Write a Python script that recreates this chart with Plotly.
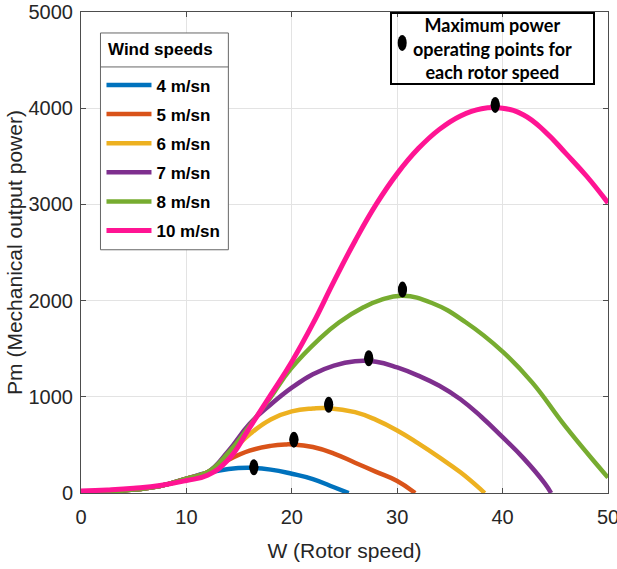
import plotly.graph_objects as go

# ---------------- data ----------------
names = ["4 m/sn", "5 m/sn", "6 m/sn", "7 m/sn", "8 m/sn", "10 m/sn"]
colors = ["#0072BD", "#D95319", "#EDB120", "#7E2F8E", "#77AC30", "#FF1493"]

x_4 = [0, 2.5, 5, 7.5, 10, 12, 14, 16, 18, 20, 22, 24, 25.4]
y_4 = [0, 12, 35, 72, 150, 210, 250, 262, 243, 200, 145, 60, 0]

x_5 = [0, 2.5, 5, 7.5, 10, 12, 14, 16, 18, 19.5, 20, 22, 24, 26, 28, 30, 31.7]
y_5 = [0, 12, 35, 72, 150, 215, 345, 440, 490, 505, 505, 478, 410, 315, 220, 125, 0]

x_6 = [0, 2.5, 5, 7.5, 10, 12, 14, 16, 18, 20, 22, 23.5, 26, 28, 30, 32, 34, 36, 38, 38.3]
y_6 = [0, 12, 35, 72, 150, 215, 400, 610, 765, 848, 878, 882, 840, 760, 650, 515, 370, 215, 30, 0]

x_7 = [0, 2.5, 5, 7.5, 10, 12, 14, 16, 18, 20, 22, 24, 26, 28, 30, 32, 34, 36, 38, 40, 42, 44, 44.6]
y_7 = [0, 12, 35, 72, 150, 215, 440, 720, 920, 1095, 1235, 1325, 1370, 1365, 1305, 1220, 1115, 975, 790, 580, 360, 100, 0]

x_8 = [0, 2.5, 5, 7.5, 10, 12, 14, 16, 17.9, 19.9, 22.6, 24.5, 26.8, 28.4, 30.5, 33.3, 36.5, 40, 42.8, 45.9, 49.1, 50]
y_8 = [0, 12, 35, 72, 150, 215, 420, 700, 980, 1290, 1600, 1775, 1930, 2005, 2050, 1975, 1775, 1470, 1150, 700, 275, 160]

x_10 = [0, 2.5, 5, 7.5, 10, 12, 14, 16, 18, 20, 22, 24, 26, 28, 30, 32, 34, 36, 38, 40, 42, 44, 46, 48, 50]
y_10 = [20, 32, 50, 78, 130, 185, 350, 680, 1020, 1365, 1760, 2200, 2620, 3000, 3320, 3580, 3780, 3920, 3995, 4000, 3930, 3760, 3530, 3290, 3015]

# maximum power operating points (black dots)
mpp_x = [16.4, 20.2, 23.5, 27.3, 30.5, 39.3]
mpp_y = [268, 554, 917, 1401, 2115, 4034]

x_ticks = [0, 10, 20, 30, 40, 50]
y_ticks = [0, 1000, 2000, 3000, 4000, 5000]

series_x = [x_4, x_5, x_6, x_7, x_8, x_10]
series_y = [y_4, y_5, y_6, y_7, y_8, y_10]

# ---------------- figure ----------------
fig = go.Figure()
for nm, cx, cy, col in zip(names, series_x, series_y, colors):
    fig.add_trace(go.Scatter(
        x=cx, y=cy, mode="lines", name=nm,
        legendgroup=nm,
        line=dict(color=col, width=5 if nm == "10 m/sn" else 4.5, shape="spline", smoothing=1.3),
    ))

fig.add_trace(go.Scatter(
    x=mpp_x, y=mpp_y, mode="markers", showlegend=False,
    marker=dict(color="black", size=9, symbol="circle"),
))

PL, PR, PT, PB = 80.5, 608.0, 12.0, 493.5
def px2x(px):
    return (px - PL) / (PR - PL)
def py2y(py):
    return (PB - py) / (PB - PT)

shapes = []
# legend frame (white box) and title separator
shapes.append(dict(type="rect", xref="paper", yref="paper",
                   x0=px2x(100), x1=px2x(228), y0=py2y(250), y1=py2y(33),
                   fillcolor="white", line=dict(color="#666666", width=1), layer="above"))
shapes.append(dict(type="line", xref="paper", yref="paper",
                   x0=px2x(100), x1=px2x(228), y0=py2y(67), y1=py2y(67),
                   line=dict(color="#666666", width=1), layer="above"))
# ellipse dots anchored at the data points
for mx, my in zip(mpp_x, mpp_y):
    shapes.append(dict(type="circle", xref="x", yref="y", xsizemode="pixel", ysizemode="pixel",
                       xanchor=mx, yanchor=my, x0=-4.5, x1=4.5, y0=-8, y1=8,
                       fillcolor="black", line=dict(width=0), layer="above"))
# dot in the annotation box
shapes.append(dict(type="circle", xref="paper", yref="paper", xsizemode="pixel", ysizemode="pixel",
                   xanchor=px2x(402), yanchor=py2y(43), x0=-4.5, x1=4.5, y0=-8, y1=8,
                   fillcolor="black", line=dict(width=0), layer="above"))

axis_common = dict(
    showline=True, linecolor="#4d4d4d", linewidth=1, mirror="ticks",
    ticks="inside", ticklen=5, tickcolor="#4d4d4d",
    showgrid=True, gridcolor="#e3e3e3", gridwidth=1, zeroline=False,
    automargin=False,
    tickfont=dict(family="Liberation Sans, Arial", size=20, color="#262626"),
)

fig.update_layout(
    width=617, height=569,
    margin=dict(l=80.5, r=9, t=12, b=75.5),
    plot_bgcolor="white", paper_bgcolor="white",
    xaxis=dict(range=[0, 50], tickvals=x_ticks, ticklabelstandoff=6, ticklabeloverflow="allow", **axis_common,
               title=dict(text="W (Rotor speed)", font=dict(family="Liberation Sans, Arial", size=21, color="#262626"), standoff=16)),
    yaxis=dict(range=[0, 5000], tickvals=y_ticks, ticklabelstandoff=3, **axis_common,
               title=dict(text="Pm (Mechanical output power)", font=dict(family="Liberation Sans, Arial", size=21, color="#262626"), standoff=0)),
    legend=dict(
        x=px2x(101), y=py2y(67.5), xanchor="left", yanchor="top",
        bgcolor="rgba(0,0,0,0)", borderwidth=0,
        font=dict(family="Liberation Sans, Arial", size=17, color="black", weight="bold"),
        tracegroupgap=4, itemwidth=45,
    ),
    shapes=shapes,
    annotations=[
        dict(xref="paper", yref="paper", x=px2x(106), y=py2y(50), xanchor="left", yanchor="middle",
             text="<b>Wind speeds</b>", showarrow=False,
             font=dict(family="Liberation Sans, Arial", size=17, color="black")),
        dict(xref="paper", yref="paper", x=px2x(492.5), y=py2y(12), xanchor="center", yanchor="top",
             text="<b>Maximum power<br>operating points for<br>each rotor speed</b>",
             showarrow=False, align="center",
             font=dict(family="Lato", size=18, color="black"),
             bordercolor="black", borderwidth=2, borderpad=1, bgcolor="rgba(0,0,0,0)",
             width=199, height=67),
    ],
)

fig.write_html("out.html")
